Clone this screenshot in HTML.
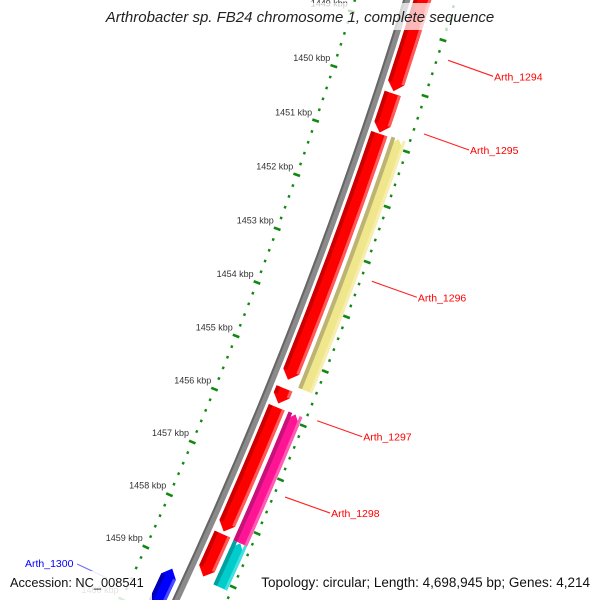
<!DOCTYPE html>
<html><head><meta charset="utf-8"><style>
html,body{margin:0;padding:0;background:#fff;overflow:hidden;width:600px;height:600px}
svg{display:block;font-family:"Liberation Sans",sans-serif}
</style></head><body>
<svg id="c" width="600" height="600" viewBox="0 0 600 600">
<g id="ticks"></g>
<g id="feat"></g>
<g id="labs"></g>
<rect x="98" y="3" width="404" height="27" fill="#fff" opacity="0.72"/>
<text x="300" y="22" text-anchor="middle" font-size="15" font-style="italic" fill="#222">Arthrobacter sp. FB24 chromosome 1, complete sequence</text>
<rect x="4" y="571" width="148" height="29" fill="#fff" opacity="0.85"/>
<text x="10" y="587" font-size="12.8" fill="#111">Accession: NC_008541</text>
<rect x="255" y="571" width="340" height="29" fill="#fff" opacity="0.85"/>
<text x="590" y="587" text-anchor="end" font-size="13.5" fill="#111">Topology: circular; Length: 4,698,945 bp; Genes: 4,214</text>
</svg>
<script>
// data
const majorTicks = [1448, 1449, 1450, 1451, 1452, 1453, 1454, 1455, 1456, 1457, 1458, 1459, 1460, 1461];
const tickLabels = ["1448 kbp","1449 kbp","1450 kbp","1451 kbp","1452 kbp","1453 kbp","1454 kbp","1455 kbp","1456 kbp","1457 kbp","1458 kbp","1459 kbp","1460 kbp","1461 kbp"];
const cdsStarts = [1447.5, 1450.13, 1450.86, 1455.53, 1455.88, 1458.25];
const cdsEnds   = [1450.09, 1450.84, 1455.37, 1455.81, 1458.2, 1459.05];
const cogStarts = [1450.84, 1455.87, 1458.27];
const cogEnds   = [1455.43, 1458.27, 1459.1];
const cogNames  = ["yellow", "magenta", "cyan"];
const revStarts = [1459.15];
const revEnds   = [1461.5];
const geneLabels = ["Arth_1294","Arth_1295","Arth_1296","Arth_1297","Arth_1298"];
const geneLabelPos = [1449.3, 1450.62, 1453.28, 1455.83, 1457.24];

const NS="http://www.w3.org/2000/svg";
const CX=-4034, CY=-1364;
function ang(k){return (18.13+0.7156*(k-1450))*Math.PI/180;}
function pt(r,k){const a=ang(k);return [CX+r*Math.cos(a),CY+r*Math.sin(a)];}
function P(p){return p[0].toFixed(2)+","+p[1].toFixed(2);}
function mk(tag,parent,attrs){const e=document.createElementNS(NS,tag);for(const k in attrs)e.setAttribute(k,attrs[k]);parent.appendChild(e);return e;}
const gT=document.getElementById('ticks'),gF=document.getElementById('feat'),gL=document.getElementById('labs');

// tick rings
const R_IN=4596, R_OUT=4692;
[R_IN,R_OUT].forEach(function(R,ri){
  majorTicks.forEach(function(m,i){
    for(let j=0;j<5;j++){
      const k=m+j*0.2;
      const len=j===0?3.5:1.2;
      const a=pt(R-len,k),b=pt(R+len,k);
      const l=mk('line',gT,{x1:a[0],y1:a[1],x2:b[0],y2:b[1],stroke:'#118811','stroke-width':2.6});
      
      
    }
    if(ri===0){
      const p=pt(R-10,m);
      const t=mk('text',gT,{x:p[0]+6,y:p[1]-2,'text-anchor':'end','font-size':'9',fill:'#333'});
      t.textContent=tickLabels[i];
      
      
    }
  });
});

function arcPath(r1,r2,s,e){
  return "M"+P(pt(r2,s))+" A"+r2+" "+r2+" 0 0 1 "+P(pt(r2,e))+" L"+P(pt(r1,e))+" A"+r1+" "+r1+" 0 0 0 "+P(pt(r1,s))+"Z";
}
function arrowPath(r1,r2,s,e,dir){
  const h=0.15, rm=(r1+r2)/2;
  if(dir>0){
    const eb=Math.max(s,e-h);
    return "M"+P(pt(r2,s))+" A"+r2+" "+r2+" 0 0 1 "+P(pt(r2,eb))+" L"+P(pt(rm,e))+" L"+P(pt(r1,eb))+" A"+r1+" "+r1+" 0 0 0 "+P(pt(r1,s))+"Z";
  } else {
    const sb=Math.min(e,s+h);
    return "M"+P(pt(rm,s))+" L"+P(pt(r2,sb))+" A"+r2+" "+r2+" 0 0 1 "+P(pt(r2,e))+" L"+P(pt(r1,e))+" A"+r1+" "+r1+" 0 0 0 "+P(pt(r1,sb))+"Z";
  }
}
let bb=mk('path',gF,{d:arcPath(4642,4649,1447,1462),fill:'#8a8a8a'});


let bb2=mk('path',gF,{d:arcPath(4642,4644,1447,1462),fill:'#666'});



function shaded(r1,r2,s,e,dir,main,dark,light,name){
  const p=mk('path',gF,{d:arrowPath(r1,r2,s,e,dir),fill:main});
  
  
  const h=dir?0.15:0;
  const ss=dir<0?s+h:s, ee=dir>0?e-h:e;
  if(ee>ss){
    const d=mk('path',gF,{d:arcPath(r1,r1+4,ss,ee),fill:dark});
    
    
    const l=mk('path',gF,{d:arcPath(r2-3,r2,ss,ee),fill:light});
    
    
  }
}
cdsStarts.forEach(function(s,i){shaded(4652,4669,s,cdsEnds[i],1,'#ff0000','#cc0000','#ff5a5a','cds-gene');});
const cogCol={yellow:['#f0e68c','#bdb473','#f6eeae'],magenta:['#ff1493','#c8107a','#ff5ab4'],cyan:['#00cccc','#00a0a0','#40e0e0']};
cogStarts.forEach(function(s,i){const c=cogCol[cogNames[i]];shaded(4673,4688,s,cogEnds[i],0,c[0],c[1],c[2],'cog-feature');});
revStarts.forEach(function(s,i){shaded(4621,4637,s,revEnds[i],-1,'#0000ff','#0000b0','#4a4aff','reverse-gene');});

geneLabels.forEach(function(n,i){
  const p=pt(4703,geneLabelPos[i]);
  const q=[p[0]+45,p[1]+16];
  const l=mk('line',gL,{x1:p[0],y1:p[1],x2:q[0],y2:q[1],stroke:'#ff2020','stroke-width':1.1});
  
  
  const t=mk('text',gL,{x:q[0]+1,y:q[1]+4,'font-size':'10.5',fill:'#ff0000'});
  t.textContent=n;
  
  
});
const bl=mk('line',gL,{x1:77,y1:564,x2:107,y2:578,stroke:'#6a6aff','stroke-width':1});


const bt=mk('text',gL,{x:25,y:567,'font-size':'10.5',fill:'#0000ff'});
bt.textContent="Arth_1300";


</script>
</body></html>
